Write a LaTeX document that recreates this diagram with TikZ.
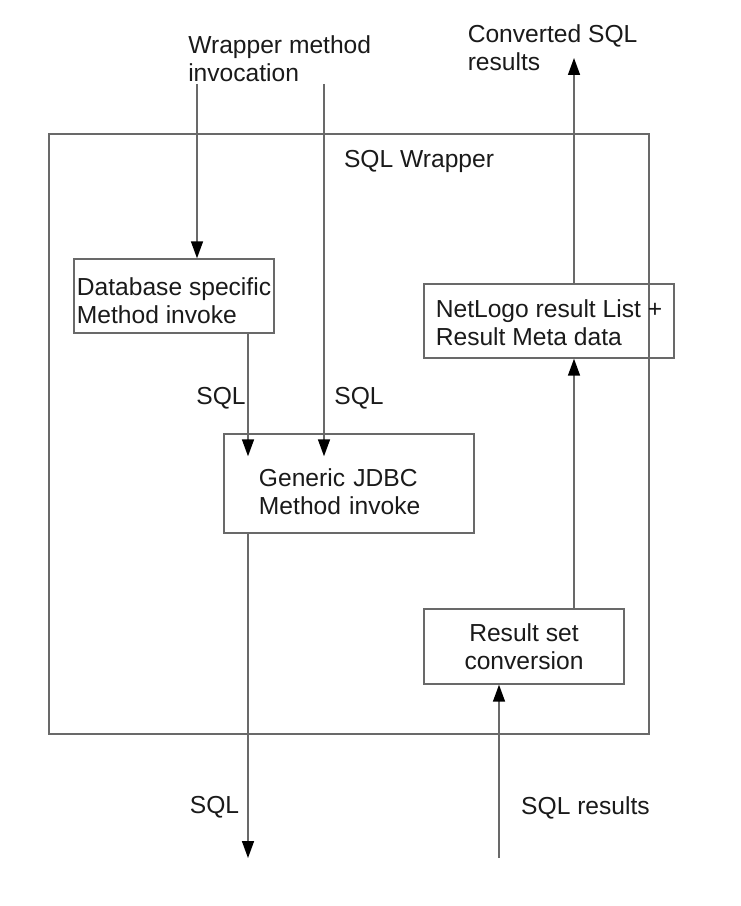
\documentclass[tikz,border=0pt]{standalone}
\usepackage{fontspec}
\setmainfont{Liberation Sans}
\usetikzlibrary{arrows.meta,calc}
\definecolor{linegray}{RGB}{105,105,105}
\definecolor{textdark}{RGB}{26,26,26}
\newcommand{\toplift}[1]{\rule{0pt}{#1}}

\begin{document}
\begin{tikzpicture}[x=0.025cm,y=-0.025cm,
  every node/.style={font=\fontsize{17.5}{20}\selectfont,text=textdark},
  box/.style={draw=linegray,line width=1pt,inner ysep=0pt,inner xsep=1pt,align=left},
  flow/.style={draw=linegray,line width=1pt,-{Triangle[length=12pt,width=8.5pt,color=black]}}]
  \useasboundingbox (0,0) rectangle (741,906);
  % wrapper frame
  \draw[linegray,line width=1pt] (49,134) rectangle (649,734);
  \node (wrap) at (419,161) {SQL Wrapper};

  % boxes
  \node[box,minimum width=5cm,minimum height=1.85cm] (db) at (174,296)
    {\toplift{19.9pt}Database specific\\Method invoke};
  \node[box,minimum width=6.25cm,minimum height=2.475cm,text width=4.5cm,inner xsep=0.875cm] (jdbc) at (349,483.5)
    {\toplift{24.2pt}Generic JDBC\\Method invoke};
  \node[box,minimum width=6.25cm,minimum height=1.85cm] (nl) at (549,321)
    {\toplift{15.6pt}NetLogo result List +\\Result Meta data};
  \node[box,align=center,minimum width=5cm,minimum height=1.875cm] (res) at (524,646.5)
    {Result set\\conversion};

  % outside labels
  \node[anchor=north west,inner sep=0pt,align=left] (invoke) at (188,35) {Wrapper method\\invocation};
  \node[anchor=north west,inner sep=0pt,align=left] (conv) at (467.5,24) {Converted SQL\\results};
  \node (sql1) at (221,398) {SQL};
  \node (sql2) at (359,398) {SQL};
  \node (sql3) at (214.5,807.5) {SQL};
  \node (sqlres) at (585.5,807.5) {SQL results};

  % connectors
  \coordinate (in1) at (197,84);
  \coordinate (in2) at (324,84);
  \coordinate (dbout) at ($(db.south)+(74,0)$);
  \coordinate (sqlout) at (248,858);
  \coordinate (sqlin) at (499,858);
  \coordinate (resout) at ($(res.north)+(50,0)$);
  \coordinate (outtop) at (574,58);
  \draw[flow] (in1) -- (in1 |- db.north);
  \draw[flow] (in2) -- ($(in2 |- jdbc.north)+(0,23)$);
  \draw[flow] (dbout) -- ($(dbout |- jdbc.north)+(0,23)$);
  \draw[flow] (sqlout |- jdbc.south) -- (sqlout);
  \draw[flow] (sqlin) -- (sqlin |- res.south);
  \draw[flow] (resout) -- (resout |- nl.south);
  \draw[flow] (outtop |- nl.north) -- (outtop);
\end{tikzpicture}
\end{document}
